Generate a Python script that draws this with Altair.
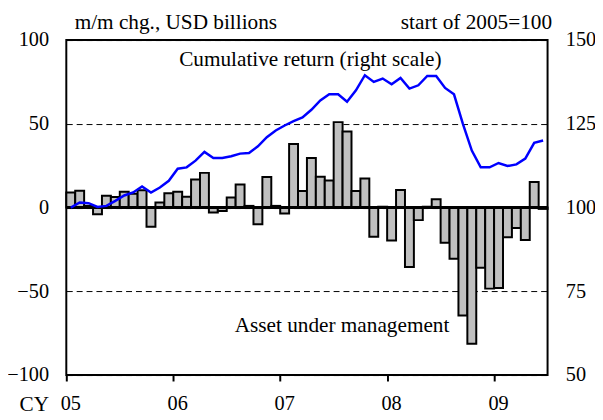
import altair as alt
import pandas as pd

# Monthly data, Jan 2005 - Jun 2009
months = list(range(54))
aum = [9, 10, 1, -4, 7, 6.3, 9.5, 8.3, 10.3, -11.4, 3, 8.5,
       9.5, 6.5, 16.8, 20.7, -3, -2, 6, 13.8, 1, -9.9, 18.2, 1,
       -3.5, 38, 9.9, 29.6, 18.4, 16.2, 51, 45.4, 9.9, 17.4, -17.4, 0.5,
       -19.7, 10.5, -35.5, -7.5, 0.5, 5, -21, -30.6, -64.5, -81.3, -36, -48.4,
       -48, -17.7, -12.2, -19.3, 15.2, -0.8]
cumret = [100, 101.5, 101.3, 100.2, 100.5, 102, 103.6, 104.5, 106.3, 104.5, 106, 108,
          111.6, 112, 114, 116.6, 114.8, 114.8, 115.3, 116.1, 116.3, 118.3, 121, 123,
          124.5, 125.8, 126.9, 129.2, 132, 133.8, 133.8, 131.6, 135, 139.5, 137.5, 138.5,
          136.8, 138.7, 135.5, 136.5, 139.3, 139.3, 135.7, 133.8, 125, 117, 112, 112,
          113.3, 112.4, 112.9, 114.6, 119.3, 120]
year_ticks = [0, 12, 24, 36, 48]
year_labels = ["05", "06", "07", "08", "09"]
left_ticks = [-100, -50, 0, 50, 100]
right_ticks = [50, 75, 100, 125, 150]
annotations = ["Cumulative return (right scale)", "Asset under management"]

df = pd.DataFrame({"m": months, "aum": aum, "ret": cumret})

FONT = "'Liberation Serif', 'Times New Roman', Times, serif"
LFS = 20.5   # tick label size
TFS = 21.5   # title / annotation size
W, H = 487, 339

common = dict(labelFont=FONT, labelFontSize=LFS, labelColor="black",
              titleFont=FONT, titleFontSize=TFS, titleColor="black",
              titleFontWeight="normal")

label_expr = "[" + ",".join("'%s'" % s for s in year_labels) + "][round(datum.value/12)]"
xscale = alt.Scale(domain=[0, 54], nice=False, zero=False)
xaxis = alt.Axis(values=year_ticks, labelExpr=label_expr, title="CY",
                 titleAngle=0, titleAlign="right", titleBaseline="alphabetic",
                 titleX=-18, titleY=36, domain=False, ticks=True, tickSize=6,
                 tickColor="black", tickWidth=2, labelPadding=13, labelOffset=4,
                 labelFlush=False, grid=False, **common)

base = alt.Chart(df).transform_calculate(
    start="datum.m", end="datum.m + 1", mc="datum.m + 0.5", zero="0"
)

bars = base.mark_bar(fill="#c0c0c0", stroke="black", strokeWidth=2).encode(
    x=alt.X("start:Q", scale=xscale, axis=xaxis),
    x2="end:Q",
    y=alt.Y("aum:Q", scale=alt.Scale(domain=[-100, 100], nice=False),
            axis=alt.Axis(values=left_ticks, grid=True, gridDash=[6, 4],
                          gridColor="black", gridWidth=1, gridOpacity=1,
                          domain=False, ticks=False, labelPadding=18,
                          title="m/m chg., USD billions", titleAngle=0,
                          titleAlign="left", titleBaseline="alphabetic",
                          titleX=8, titleY=-12, **common)),
    y2="zero:Q",
)

zero_rule = alt.Chart(df).mark_rule(color="black", strokeWidth=2).encode(
    y=alt.datum(0, type="quantitative")
)

one = pd.DataFrame({"t": [0]})
txt1 = alt.Chart(one).mark_text(text=annotations[0], font=FONT,
                                fontSize=TFS, baseline="alphabetic", align="center",
                                color="black").encode(x=alt.value(247), y=alt.value(26))
txt2 = alt.Chart(one).mark_text(text=annotations[1], font=FONT,
                                fontSize=TFS, baseline="alphabetic", align="center",
                                color="black").encode(x=alt.value(279), y=alt.value(295))

left = alt.layer(bars, zero_rule, txt1, txt2)

line = base.mark_line(color="#0000ff", strokeWidth=2.5).encode(
    x=alt.X("mc:Q", scale=xscale, axis=xaxis),
    y=alt.Y("ret:Q", scale=alt.Scale(domain=[50, 150], nice=False),
            axis=alt.Axis(orient="right", values=right_ticks, grid=False,
                          domain=False, ticks=False, labelPadding=18,
                          title="start of 2005=100", titleAngle=0,
                          titleAlign="right", titleBaseline="alphabetic",
                          titleX=4, titleY=-12, **common)),
)

chart = alt.layer(left, line).resolve_scale(y="independent").properties(
    width=W, height=H,
    autosize=alt.AutoSizeParams(type="none"),
    padding={"left": 59, "top": 30, "right": 48, "bottom": 40},
).configure_view(stroke="black", strokeWidth=2)

chart.save("out.html", embed_options={"renderer": "svg", "actions": False})
